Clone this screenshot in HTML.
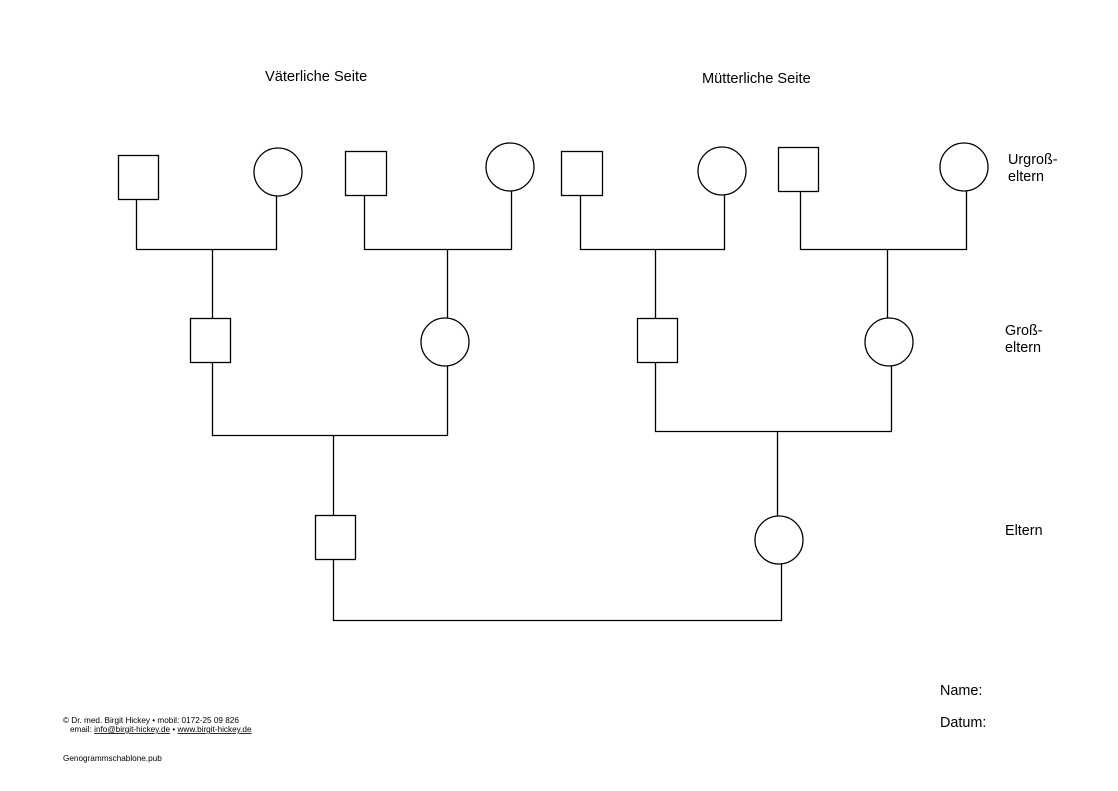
<!DOCTYPE html>
<html><head><meta charset="utf-8"><style>
body{margin:0;background:#fff;}
svg{display:block;}
text{font-family:"Liberation Sans",sans-serif;fill:#000;}
</style></head><body>
<svg width="1118" height="791" viewBox="0 0 1118 791" xmlns="http://www.w3.org/2000/svg">
<g fill="#fff" stroke="#000" stroke-width="1.3">
<rect x="118.5" y="155.5" width="40" height="44"/>
<circle cx="278" cy="172" r="24"/>
<rect x="345.5" y="151.5" width="41" height="44"/>
<circle cx="510" cy="167" r="24"/>
<rect x="561.5" y="151.5" width="41" height="44"/>
<circle cx="722" cy="171" r="24"/>
<rect x="778.5" y="147.5" width="40" height="44"/>
<circle cx="964" cy="167" r="24"/>
<rect x="190.5" y="318.5" width="40" height="44"/>
<circle cx="445" cy="342" r="24"/>
<rect x="637.5" y="318.5" width="40" height="44"/>
<circle cx="889" cy="342" r="24"/>
<rect x="315.5" y="515.5" width="40" height="44"/>
<circle cx="779" cy="540" r="24"/>
</g>
<g fill="none" stroke="#000" stroke-width="1.3">
<polyline points="136.5,199.5 136.5,249.5 276.5,249.5 276.5,196"/>
<line x1="212.5" y1="249.5" x2="212.5" y2="318.5"/>
<polyline points="364.5,195.5 364.5,249.5 511.5,249.5 511.5,191"/>
<line x1="447.5" y1="249.5" x2="447.5" y2="318"/>
<polyline points="580.5,195.5 580.5,249.5 724.5,249.5 724.5,195"/>
<line x1="655.5" y1="249.5" x2="655.5" y2="318.5"/>
<polyline points="800.5,191.5 800.5,249.5 966.5,249.5 966.5,191"/>
<line x1="887.5" y1="249.5" x2="887.5" y2="318"/>
<polyline points="212.5,362.5 212.5,435.5 447.5,435.5 447.5,366"/>
<line x1="333.5" y1="435.5" x2="333.5" y2="515.5"/>
<polyline points="655.5,362.5 655.5,431.5 891.5,431.5 891.5,366"/>
<line x1="777.5" y1="431.5" x2="777.5" y2="516"/>
<polyline points="333.5,559.5 333.5,620.5 781.5,620.5 781.5,564"/>
</g>
<text x="265" y="81" font-size="14.6">Väterliche Seite</text>
<text x="702" y="83" font-size="14.6">Mütterliche Seite</text>
<text x="1008" y="164" font-size="14.4">Urgroß-</text>
<text x="1008" y="181" font-size="14.4">eltern</text>
<text x="1005" y="335" font-size="14.4">Groß-</text>
<text x="1005" y="352" font-size="14.4">eltern</text>
<text x="1005" y="535" font-size="14.4">Eltern</text>
<text x="940" y="695" font-size="14.4">Name:</text>
<text x="940" y="727" font-size="14.4">Datum:</text>
<text x="63" y="723" font-size="8.2">© Dr. med. Birgit Hickey • mobil: 0172-25 09 826</text>
<text x="70" y="732" font-size="8.2">email: <tspan text-decoration="underline">info@birgit-hickey.de</tspan> • <tspan text-decoration="underline">www.birgit-hickey.de</tspan></text>
<text x="63" y="761" font-size="8.2">Genogrammschablone.pub</text>
</svg>
</body></html>
